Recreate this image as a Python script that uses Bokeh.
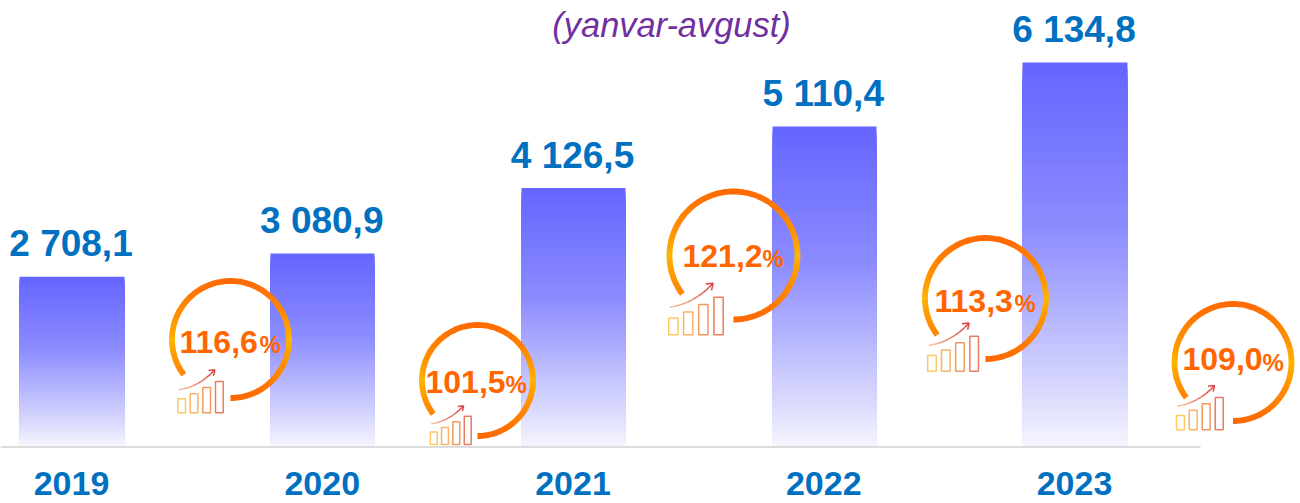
import math
from bokeh.plotting import figure
from bokeh.models import Range1d
from bokeh.core.properties import value
from bokeh.embed import file_html
from bokeh.resources import INLINE

# ---------- data ----------
years = [2019, 2020, 2021, 2022, 2023]
values = [2708.1, 3080.9, 4126.5, 5110.4, 6134.8]
value_labels = ["2 708,1", "3 080,9", "4 126,5", "5 110,4", "6 134,8"]
growth_labels = ["116,6", "101,5", "121,2", "113,3", "109,0"]
title_text = "(yanvar-avgust)"

# ---------- layout (picture pixels) ----------
W, H = 1300, 503
PAGE = 0
BAR_C0, BAR_STEP = 71.5, 250.75
BAR_W_PX = 105
BASE_PY, PX_PER_UNIT = 445.5, 0.0625
TEXT_SHIFT = 0.38  # of the font size, rendered baseline sits this far below the anchor

ring_cx = [230, 477, 733, 985, 1232.5]
ring_cy = [339, 380, 255, 298, 362]
ring_r = [58.5, 55.5, 64, 60.5, 58.5]
icon_right = [222.7, 470.7, 722.7, 978, 1222.7]
icon_bottom = [412.3, 444, 334.3, 370.7, 429.3]
icon_scale = [1.0, 0.9, 1.2, 1.12, 1.03]
pct_x = [179, 425, 682, 934, 1182]
pct_base = [353.5, 393.5, 267.5, 312.5, 371]

x0 = 2019 + (PAGE - BAR_C0) / BAR_STEP
x1 = x0 + W / BAR_STEP
y1 = (BASE_PY - PAGE) / PX_PER_UNIT
y0 = y1 - H / PX_PER_UNIT


def X(px):
    return 2019 + (px - BAR_C0) / BAR_STEP


def Y(py):
    return (BASE_PY - py) / PX_PER_UNIT


def lerp(a, b, t):
    return a + (b - a) * t


def hexc(r, g, b):
    return "#%02x%02x%02x" % (round(r), round(g), round(b))


def mix(c1, c2, t):
    return hexc(*[lerp(a, b, t) for a, b in zip(c1, c2)])


p = figure(width=W, height=H, x_range=Range1d(x0, x1), y_range=Range1d(y0, y1),
           x_axis_type=None, y_axis_type=None, toolbar_location=None,
           output_backend="svg", min_border=0, outline_line_color=None,
           background_fill_color="white", border_fill_color="white")
p.xgrid.visible = False
p.ygrid.visible = False

# ---------- gradient bars: painted from full height downwards ----------
stops = [(0.0, 102), (0.425, 140), (0.84, 215), (1.0, 247)]


def bar_shade(t):
    for (a, va), (b, vb) in zip(stops, stops[1:]):
        if t <= b:
            return lerp(va, vb, (t - a) / (b - a))
    return stops[-1][1]


STEPS = 60
centers_px = [BAR_C0 + BAR_STEP * (y - 2019) for y in years]
bar_left = [X(math.ceil(c - BAR_W_PX / 2)) for c in centers_px]
bar_right = [X(math.floor(c + BAR_W_PX / 2)) for c in centers_px]
for i in range(STEPS):
    frac = 1 - i / STEPS
    t = i / STEPS
    s = bar_shade(t)
    col = hexc(s, s, lerp(255, 254, t))
    p.quad(left=bar_left, right=bar_right, top=[v * frac for v in values], bottom=0,
           fill_color=col, line_color=None)

# ---------- baseline ----------
p.segment(x0=[X(PAGE)], y0=[Y(446.5)], x1=[X(1200)], y1=[Y(446.5)],
          line_color="#dcdcdc", line_width=2)

# ---------- rings ----------
YEL, ORG = (255, 182, 0), (255, 106, 0)
for cx, cy, r in zip(ring_cx, ring_cy, ring_r):
    starts, ends, cols = [], [], []
    a = -90.0
    while a < 217:
        b = min(a + 4, 217)
        m = math.radians((a + b) / 2)
        starts.append(math.radians(a))
        ends.append(math.radians(min(b + 0.6, 217)))
        cols.append(mix(YEL, ORG, abs(math.sin(m)) ** 0.8))
        a = b
    n = len(starts)
    p.arc(x=[X(cx)] * n, y=[Y(cy)] * n, radius=r, radius_units="screen",
          start_angle=starts, end_angle=ends, line_color=cols, line_width=5.8)

# ---------- icons ----------
BAR_L = [-45.4, -33.0, -20.4, -7.7]
BAR_H = [14, 19, 25.3, 31.3]
ICON_W = 7.7
BAR_COL = ["#ffc860", "#f8b468", "#ee9a60", "#e87c60"]
for rx, by, sc in zip(icon_right, icon_bottom, icon_scale):
    for l, h, col in zip(BAR_L, BAR_H, BAR_COL):
        p.quad(left=[X(rx + l * sc)], right=[X(rx + (l + ICON_W) * sc)],
               bottom=[Y(by)], top=[Y(by - h * sc)],
               fill_color=None, line_color=col, line_width=1.5)
    # rising arrow
    P0, P1, P2 = (-44.4, -23), (-24, -26), (-8.4, -43)
    pts = []
    for k in range(9):
        u = k / 8
        pts.append(((1 - u) ** 2 * P0[0] + 2 * u * (1 - u) * P1[0] + u ** 2 * P2[0],
                    (1 - u) ** 2 * P0[1] + 2 * u * (1 - u) * P1[1] + u ** 2 * P2[1]))
    for k in range(8):
        col = mix((245, 190, 150), (222, 70, 70), k / 7)
        p.line(x=[X(rx + pts[k][0] * sc), X(rx + pts[k + 1][0] * sc)],
               y=[Y(by + pts[k][1] * sc), Y(by + pts[k + 1][1] * sc)],
               line_color=col, line_width=1.5)
    for leg in [(-14.7, -42.3), (-9.7, -37)]:
        p.line(x=[X(rx + leg[0] * sc), X(rx + P2[0] * sc)],
               y=[Y(by + leg[1] * sc), Y(by + P2[1] * sc)],
               line_color="#de4646", line_width=1.5)

# ---------- texts ----------
FONT = value("Liberation Sans")
LABEL_PX, YEAR_PX, TITLE_PX, NUM_PX, PCT_PX = 37, 34, 34.4, 32, 24


def Yt(py, size):
    return Y(py - TEXT_SHIFT * size)


p.text(x=years, y=values, text=value_labels, text_font=FONT, text_font_style="bold",
       text_font_size=f"{LABEL_PX}px", text_color="#0070c0", text_align="center",
       text_baseline="alphabetic", y_offset=-19 - TEXT_SHIFT * LABEL_PX, x_offset=-1)
p.text(x=years, y=[Yt(496, YEAR_PX)] * 5, text=[str(v) for v in years], text_font=FONT,
       text_font_style="bold", text_font_size=f"{YEAR_PX}px", text_color="#0070c0",
       text_align="center", text_baseline="alphabetic", x_offset=-0.5)
p.text(x=[X(671)], y=[Yt(38, TITLE_PX)], text=[title_text], text_font=FONT,
       text_font_style="italic", text_font_size=f"{TITLE_PX}px", text_color="#7030a0",
       text_align="center", text_baseline="alphabetic")
p.text(x=[X(v) for v in pct_x], y=[Yt(v, NUM_PX) for v in pct_base], text=growth_labels,
       text_font=FONT, text_font_style="bold", text_font_size=f"{NUM_PX}px",
       text_color="#ff6600", text_align="left", text_baseline="alphabetic")
pct_off = 2.5 * NUM_PX
p.text(x=[X(v + pct_off) for v in pct_x], y=[Yt(v, PCT_PX) for v in pct_base], text=["%"] * 5,
       text_font=FONT, text_font_style="bold", text_font_size=f"{PCT_PX}px",
       text_color="#ff6600", text_align="left", text_baseline="alphabetic")

open("out.html", "w").write(file_html(p, INLINE))
